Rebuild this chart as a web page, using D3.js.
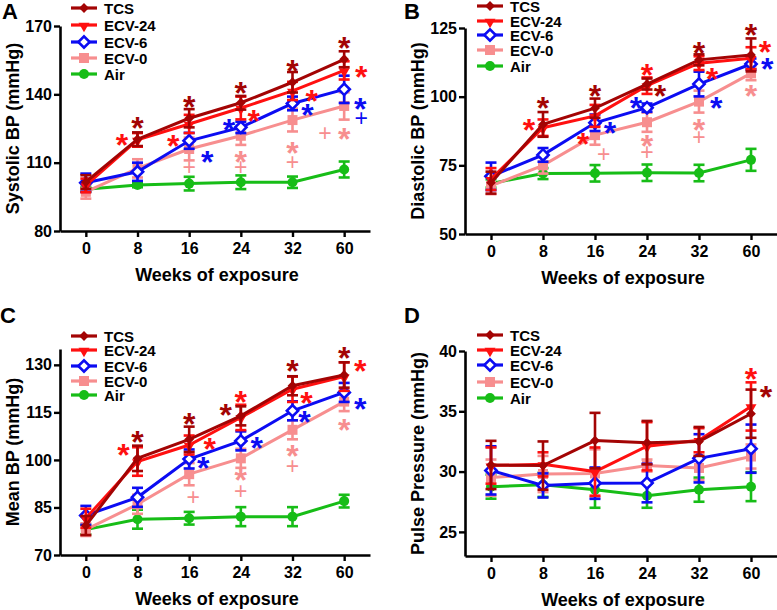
<!DOCTYPE html>
<html><head><meta charset="utf-8">
<script src="https://cdn.jsdelivr.net/npm/d3@7"></script>
<style>
body{margin:0;background:#fff}
svg{display:block}
text{font-family:"Liberation Sans",Arial,Helvetica,sans-serif;font-weight:bold}
</style>
</head><body>
<svg id="chart" width="777" height="610"></svg>
<script>
// ---------- data ----------
const weeks = ["0", "8", "16", "24", "32", "60"];
const groups = ["TCS", "ECV-24", "ECV-6", "ECV-0", "Air"];

// rows follow `groups`
const systolicMeans = [
  [101.5, 120.3, 129.5, 136.3, 145.3, 155.4],
  [100.0, 120.0, 127.0, 134.0, 141.5, 150.5],
  [101.2, 106.0, 119.6, 125.5, 136.0, 142.2],
  [97.2, 107.5, 116.0, 121.8, 128.7, 134.9],
  [98.3, 100.2, 100.8, 101.4, 101.4, 107.0]
];
const systolicSEM = [
  [3, 3, 4, 3, 4.5, 3.5],
  [3, 3, 4, 5, 4, 4],
  [4, 4, 3.5, 2.5, 3, 6],
  [3, 4, 5, 4, 5, 6],
  [1, 1, 3, 3, 2.5, 3.5]
];
const systolicTicks = [80, 110, 140, 170];

const diastolicMeans = [
  [68.7, 89.9, 95.8, 104.6, 113.4, 115.2],
  [70.0, 88.7, 93.0, 104.0, 112.2, 114.0],
  [71.0, 78.8, 90.5, 96.0, 104.6, 111.9],
  [67.5, 75.0, 86.0, 90.7, 98.2, 108.5],
  [68.4, 72.0, 72.1, 72.3, 72.2, 77.0]
];
const diastolicSEM = [
  [4, 4.5, 3.5, 2, 2, 6],
  [4, 3, 4, 3, 2.5, 4],
  [5, 2.5, 3, 1.5, 4.5, 2],
  [3, 3, 3.5, 3.5, 4, 2.5],
  [1.5, 2, 3, 3, 3, 4]
];
const diastolicTicks = [50, 75, 100, 125];

const meanBPMeans = [
  [79.3, 100.5, 106.5, 113.9, 123.4, 126.8],
  [81.6, 99.5, 104.7, 113.4, 122.3, 126.3],
  [82.5, 88.2, 100.3, 106.0, 115.5, 121.3],
  [78.0, 86.0, 95.5, 100.5, 109.5, 118.4],
  [78.0, 81.3, 81.6, 82.1, 82.1, 87.0]
];
const meanBPSEM = [
  [3, 4, 4, 3, 3, 4],
  [3, 4.5, 3, 4, 4, 4.5],
  [3, 3, 3, 3, 3, 3],
  [2, 3, 3.5, 3, 3, 3],
  [1.5, 3, 2, 3, 3, 2]
];
const meanBPTicks = [70, 85, 100, 115, 130];

const pulseMeans = [
  [30.55, 30.5, 32.57, 32.4, 32.5, 34.8],
  [30.5, 30.6, 30.0, 32.1, 32.6, 35.4],
  [30.1, 28.85, 29.04, 29.05, 31.1, 31.9],
  [29.5, 29.8, 29.85, 30.5, 30.3, 31.25],
  [28.75, 28.9, 28.5, 28.0, 28.5, 28.75]
];
const pulseSEM = [
  [2, 2, 2.3, 1.8, 1.2, 2],
  [1.5, 1, 2, 2, 1, 2],
  [2, 1, 1.3, 1.6, 2, 2],
  [1.5, 1.5, 2, 0.5, 1, 1],
  [1, 1, 1.5, 1, 1, 1.2]
];
const pulseTicks = [25, 30, 35, 40];

// significance marks: [symbol, group index, week index, side (fraction of step), value level]
const systolicMarks = [
  ["*", 0, 1, 0, 127.9], ["*", 0, 2, 0, 137.5], ["*", 0, 3, 0, 143.7], ["*", 0, 4, 0, 153.3], ["*", 0, 5, 0, 163.4],
  ["*", 1, 1, -0.3, 120.8], ["*", 1, 2, -0.31, 120.0], ["*", 1, 3, 0.25, 131.4], ["*", 1, 4, 0.37, 140.1], ["*", 1, 5, 0.33, 150.7],
  ["*", 2, 2, 0.35, 113.4], ["*", 2, 3, -0.23, 127.4], ["*", 2, 4, 0.29, 134.0], ["*", 2, 5, 0.31, 136.6], ["+", 2, 5, 0.33, 129.6],
  ["*", 3, 3, 0, 113.4], ["*", 3, 4, 0, 117.3], ["*", 3, 5, 0, 123.5],
  ["+", 3, 2, 0, 108.1], ["+", 3, 3, 0, 108.1], ["+", 3, 4, 0, 110.3], ["+", 3, 5, -0.37, 123.0]
];
const diastolicMarks = [
  ["*", 0, 1, 0, 98.1], ["*", 0, 2, 0, 102.8], ["*", 0, 3, 0.25, 102.8], ["*", 0, 4, 0, 118.4], ["*", 0, 5, 0, 125.0],
  ["*", 1, 1, -0.27, 90.1], ["*", 1, 2, -0.23, 85.3], ["*", 1, 3, 0, 110.4], ["*", 1, 4, 0.25, 109.0], ["*", 1, 5, 0.27, 118.8],
  ["*", 2, 2, 0.29, 89.3], ["*", 2, 3, -0.21, 98.1], ["*", 2, 4, 0.33, 98.1], ["*", 2, 5, 0.31, 112.6],
  ["*", 3, 3, 0, 84.6], ["*", 3, 4, 0, 90.4], ["*", 3, 5, 0, 102.8],
  ["+", 3, 2, 0.17, 79.1], ["+", 3, 3, 0, 79.9], ["+", 3, 4, 0, 85.3]
];
const meanBPMarks = [
  ["*", 0, 1, 0, 107.6], ["*", 0, 2, 0, 113.3], ["*", 0, 3, -0.29, 116.4], ["*", 0, 4, 0, 130.0], ["*", 0, 5, 0, 134.1],
  ["*", 1, 1, -0.27, 103.5], ["*", 1, 2, 0.4, 105.4], ["*", 1, 3, 0, 120.5], ["*", 1, 4, 0.27, 119.9], ["*", 1, 5, 0.31, 130.0],
  ["*", 2, 2, 0.27, 99.4], ["*", 2, 3, 0.31, 106.0], ["*", 2, 4, 0.23, 114.2], ["*", 2, 5, 0.31, 118.3],
  ["*", 3, 3, 0, 95.9], ["*", 3, 4, 0, 103.2], ["*", 3, 5, 0, 111.4],
  ["+", 3, 2, 0.08, 88.3], ["+", 3, 3, 0, 90.2], ["+", 3, 4, 0, 98.1]
];
const pulseMarks = [
  ["*", 1, 5, 0, 38.26], ["*", 0, 5, 0.29, 36.77]
];

// ---------- styles ----------
const colors = ["#A30404", "#FF1010", "#0C0CF2", "#F78E8F", "#17BD17"];
const shapes = ["diamond", "triangleDown", "openDiamond", "square", "circle"];

const panels = [
  {letter: "A", title: "Systolic BP (mmHg)", means: systolicMeans, sem: systolicSEM, marks: systolicMarks,
   ticks: systolicTicks, domain: [80, 170], left: 60, right: 370, top: 26, bottom: 231,
   letterX: 2, letterY: 19, legX: 71, legY: [8, 25, 42, 58, 74], legTextX: 104, titleX: 19},
  {letter: "B", title: "Diastolic BP (mmHg)", means: diastolicMeans, sem: diastolicSEM, marks: diastolicMarks,
   ticks: diastolicTicks, domain: [50, 125], left: 465, right: 777, top: 28, bottom: 234,
   letterX: 404, letterY: 19, legX: 477, legY: [6, 21, 35, 50, 66], legTextX: 510, titleX: 424},
  {letter: "C", title: "Mean BP (mmHg)", means: meanBPMeans, sem: meanBPSEM, marks: meanBPMarks,
   ticks: meanBPTicks, domain: [70, 135], left: 60, right: 370, top: 349, bottom: 555,
   letterX: 0, letterY: 323, legX: 71, legY: [336, 350, 366, 381, 395], legTextX: 104, titleX: 19},
  {letter: "D", title: "Pulse Pressure (mmHg)", means: pulseMeans, sem: pulseSEM, marks: pulseMarks,
   ticks: pulseTicks, domain: [23, 40], left: 465, right: 777, top: 351, bottom: 556,
   letterX: 404, letterY: 323, legX: 477, legY: [335, 350, 365, 382, 398], legTextX: 510, titleX: 424}
];

const svg = d3.select("#chart");

function drawMarker(g, shape, color, cx, cy) {
  if (shape === "circle") {
    g.append("circle").attr("cx", cx).attr("cy", cy).attr("r", 5).attr("fill", color);
  } else if (shape === "square") {
    g.append("rect").attr("x", cx - 5).attr("y", cy - 5).attr("width", 10).attr("height", 10).attr("fill", color);
  } else if (shape === "diamond") {
    g.append("path").attr("d", d3.symbol().type(d3.symbolSquare).size(48)())
      .attr("transform", `translate(${cx},${cy}) rotate(45)`).attr("fill", color);
  } else if (shape === "openDiamond") {
    g.append("path").attr("d", d3.symbol().type(d3.symbolSquare).size(64)())
      .attr("transform", `translate(${cx},${cy}) rotate(45)`).attr("fill", "#fff")
      .attr("stroke", color).attr("stroke-width", 2.6);
  } else if (shape === "triangleDown") {
    g.append("path").attr("d", d3.symbol().type(d3.symbolTriangle).size(52)())
      .attr("transform", `translate(${cx},${cy + 1}) rotate(180)`).attr("fill", color);
  }
}

panels.forEach(p => {
  const g = svg.append("g");
  const x = d3.scalePoint().domain(weeks).range([p.left, p.right]).padding(0.5);
  const y = d3.scaleLinear().domain(p.domain).range([p.bottom, p.top]);

  // axes
  const yAxis = g.append("g").attr("transform", `translate(${p.left},0)`)
    .call(d3.axisLeft(y).tickValues(p.ticks).tickSize(6).tickSizeOuter(0).tickPadding(2));
  const xAxis = g.append("g").attr("transform", `translate(0,${p.bottom})`)
    .call(d3.axisBottom(x).tickSize(6).tickSizeOuter(0).tickPadding(5));
  [yAxis, xAxis].forEach(a => {
    a.select(".domain").attr("stroke", "#000").attr("stroke-width", 2.6);
    a.selectAll(".tick line").attr("stroke", "#000").attr("stroke-width", 2.4);
    a.selectAll(".tick text").attr("fill", "#000").style("font-size", "16px")
      .style("font-family", '"Liberation Sans",Arial,sans-serif').style("font-weight", "bold");
  });
  xAxis.selectAll(".tick text").attr("dy", "0.75em");

  // titles
  g.append("text").attr("x", (p.left + p.right) / 2 + 2).attr("y", p.bottom + 50)
    .attr("text-anchor", "middle").style("font-size", "18px").text("Weeks of exposure");
  g.append("text").attr("transform", `translate(${p.titleX},${(p.top + p.bottom) / 2}) rotate(-90)`)
    .attr("text-anchor", "middle").style("font-size", "18px").text(p.title);
  g.append("text").attr("x", p.letterX).attr("y", p.letterY).style("font-size", "22px").text(p.letter);

  // series (drawn bottom-up: Air first, TCS last)
  const order = [4, 3, 2, 1, 0];
  order.forEach(si => {
    const col = colors[si];
    const sg = g.append("g");
    const vals = p.means[si], errs = p.sem[si];
    weeks.forEach((w, i) => {
      const cx = x(w), y1 = y(vals[i] + errs[i]), y2 = y(vals[i] - errs[i]);
      sg.append("line").attr("x1", cx).attr("x2", cx).attr("y1", y1).attr("y2", y2)
        .attr("stroke", col).attr("stroke-width", 2.6);
      [y1, y2].forEach(yy => sg.append("line").attr("x1", cx - 5.5).attr("x2", cx + 5.5)
        .attr("y1", yy).attr("y2", yy).attr("stroke", col).attr("stroke-width", 2.6));
    });
    const line = d3.line().x((d, i) => x(weeks[i])).y(d => y(d));
    sg.append("path").datum(vals).attr("d", line).attr("fill", "none")
      .attr("stroke", col).attr("stroke-width", 3);
    vals.forEach((v, i) => drawMarker(sg, shapes[si], col, x(weeks[i]), y(v)));
  });

  // significance marks
  const step = x.step();
  p.marks.forEach(m => {
    const [sym, gi, wi, side, lvl] = m;
    const cx = x(weeks[wi]) + side * step;
    const cy = y(lvl);
    if (sym === "*") {
      g.append("text").attr("x", cx).attr("y", cy + 0.55 * 32).attr("text-anchor", "middle")
        .style("font-size", "32px").attr("fill", colors[gi]).text("*");
    } else {
      g.append("text").attr("x", cx).attr("y", cy + 0.36 * 23).attr("text-anchor", "middle")
        .style("font-size", "23px").style("font-weight", "normal").attr("fill", colors[gi]).text("+");
    }
  });

  // legend
  groups.forEach((name, si) => {
    const ly = p.legY[si];
    const lg = g.append("g");
    lg.append("line").attr("x1", p.legX).attr("x2", p.legX + 26).attr("y1", ly).attr("y2", ly)
      .attr("stroke", colors[si]).attr("stroke-width", 3.2);
    drawMarker(lg, shapes[si], colors[si], p.legX + 13, ly);
    lg.append("text").attr("x", p.legTextX).attr("y", ly + 5.5).style("font-size", "15px")
      .attr("fill", "#000").text(name);
  });
});
</script>
</body></html>
